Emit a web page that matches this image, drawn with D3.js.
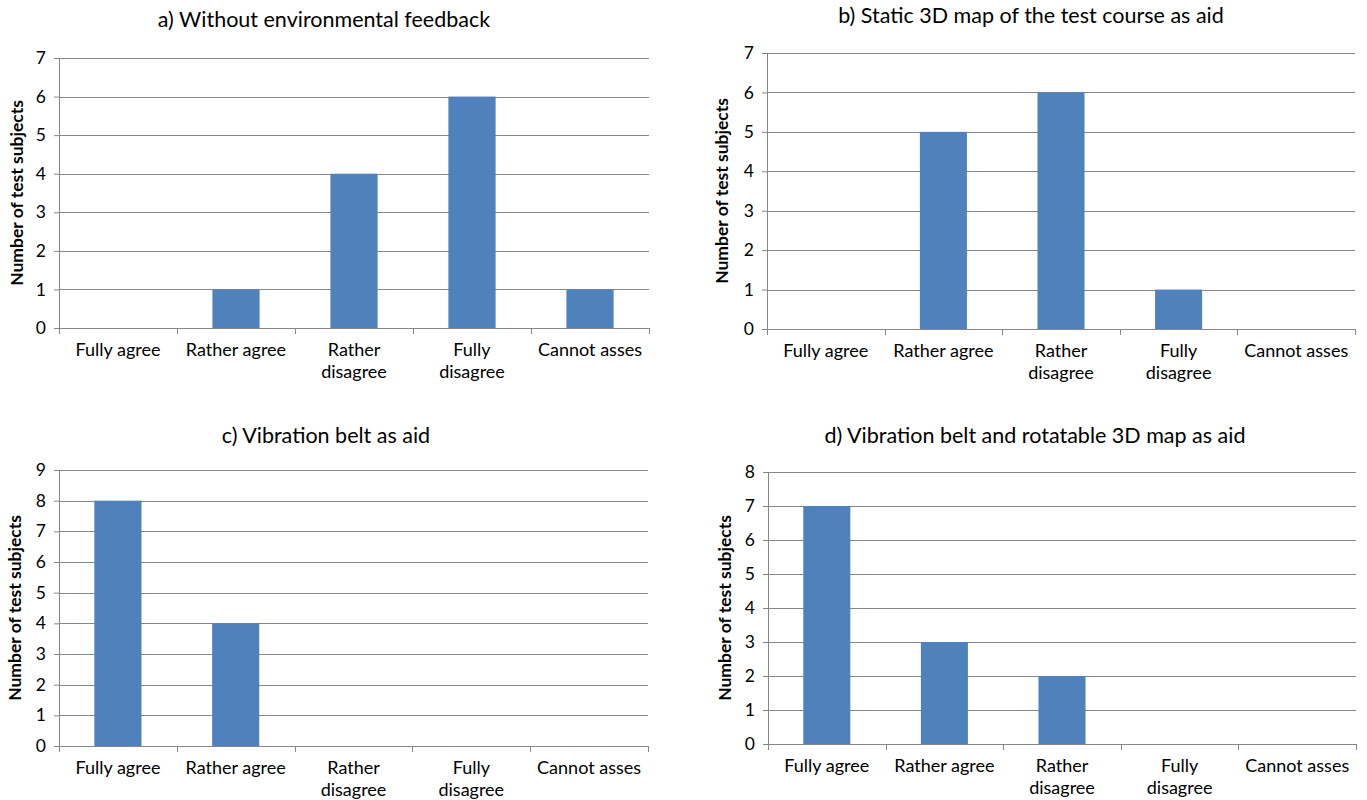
<!DOCTYPE html>
<html>
<head>
<meta charset="utf-8">
<script src="https://cdn.jsdelivr.net/npm/d3@7"></script>
<style>
  html, body { margin: 0; padding: 0; background: #fff; }
  svg { display: block; }
  text { font-family: Lato, "Noto Sans", sans-serif; fill: #000; }
</style>
</head>
<body>
<svg id="chart" width="1367" height="800"></svg>
<script>
// ---- data ----
const categories = ["Fully agree", "Rather agree", "Rather disagree", "Fully disagree", "Cannot asses"];
const categoryLines = [["Fully agree"], ["Rather agree"], ["Rather", "disagree"], ["Fully", "disagree"], ["Cannot asses"]];
const titles = [
  "a) Without environmental feedback",
  "b) Static 3D map of the test course as aid",
  "c) Vibration belt as aid",
  "d) Vibration belt and rotatable 3D map as aid"
];
const valuesA = [0, 1, 4, 6, 1];
const valuesB = [0, 5, 6, 1, 0];
const valuesC = [8, 4, 0, 0, 0];
const valuesD = [7, 3, 2, 0, 0];
const seriesValues = [valuesA, valuesB, valuesC, valuesD];
const yMaxes = [7, 7, 9, 8];
const yAxisTitle = "Number of test subjects";

// ---- layout ----
const layouts = [
  { left: 59,  right: 649,  top: 58,  bottom: 328, titleX: 324,  titleY: 27,  yTitleX: 23 },
  { left: 767, right: 1355, top: 53,  bottom: 329, titleX: 1031, titleY: 23,  yTitleX: 728 },
  { left: 59,  right: 648,  top: 470, bottom: 746, titleX: 326,  titleY: 443, yTitleX: 21 },
  { left: 768, right: 1356, top: 472, bottom: 744, titleX: 1035, titleY: 443, yTitleX: 731 }
];

const svg = d3.select("#chart");
const gridColor = "#878787";
const barColor = "#4F81BD";

layouts.forEach((L, i) => {
  const g = svg.append("g");
  const vals = seriesValues[i];
  const x = d3.scaleBand().domain(categories).range([L.left, L.right])
    .paddingInner(0.6).paddingOuter(0.3);
  const y = d3.scaleLinear().domain([0, yMaxes[i]]).range([L.bottom, L.top]);
  const step = x.step();

  // title
  g.append("text").attr("x", L.titleX).attr("y", L.titleY)
    .attr("text-anchor", "middle").style("font-size", "21.5px").text(titles[i]);

  // y axis
  const yAxis = d3.axisLeft(y).ticks(yMaxes[i]).tickFormat(d3.format("d"))
    .tickSizeInner(5).tickSizeOuter(0).tickPadding(8);
  const ya = g.append("g").attr("transform", `translate(${L.left},0)`).call(yAxis);
  ya.select(".domain").attr("stroke", gridColor);
  ya.selectAll(".tick line").attr("stroke", gridColor);
  ya.selectAll(".tick text").style("font-size", "17.5px").attr("fill", "#000")
    .style("font-family", "Lato, sans-serif");

  // gridlines
  g.append("g").selectAll("line").data(y.ticks(yMaxes[i]).filter(d => d > 0)).join("line")
    .attr("x1", L.left).attr("x2", L.right)
    .attr("y1", d => Math.round(y(d)) + 0.5).attr("y2", d => Math.round(y(d)) + 0.5)
    .attr("stroke", gridColor).attr("stroke-width", 1);

  // bars
  g.append("g").selectAll("rect").data(vals).join("rect")
    .attr("x", (d, j) => x(categories[j]))
    .attr("width", x.bandwidth())
    .attr("y", d => y(d))
    .attr("height", d => y(0) - y(d))
    .attr("fill", barColor);

  // x axis line
  g.append("line").attr("x1", L.left - 5).attr("x2", L.right)
    .attr("y1", Math.round(y(0)) + 0.5).attr("y2", Math.round(y(0)) + 0.5)
    .attr("stroke", gridColor);
  // boundary ticks
  const boundaries = categories.map(c => x(c) - step * 0.3).concat([L.right]);
  g.append("g").selectAll("line").data(boundaries).join("line")
    .attr("x1", d => Math.round(d) + 0.5).attr("x2", d => Math.round(d) + 0.5)
    .attr("y1", Math.round(y(0))).attr("y2", Math.round(y(0)) + 6)
    .attr("stroke", gridColor);

  // category labels
  categoryLines.forEach((lines, j) => {
    const cx = x(categories[j]) + x.bandwidth() / 2;
    const t = g.append("text").attr("text-anchor", "middle").style("font-size", "18px")
      .attr("x", cx).attr("y", L.bottom + 28);
    lines.forEach((ln, k) => {
      t.append("tspan").attr("x", cx).attr("dy", k === 0 ? 0 : 22).text(ln);
    });
  });

  // y axis title
  const cy = (L.top + L.bottom) / 2;
  g.append("text").attr("transform", `translate(${L.yTitleX},${cy}) rotate(-90)`)
    .attr("text-anchor", "middle").style("font-size", "17.5px").style("font-weight", "bold")
    .text(yAxisTitle);
});
</script>
</body>
</html>
